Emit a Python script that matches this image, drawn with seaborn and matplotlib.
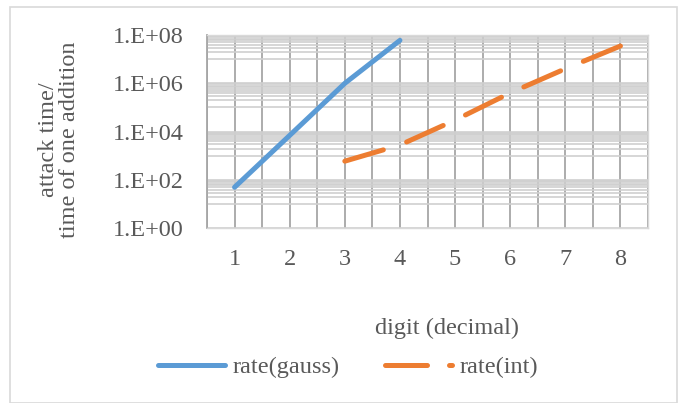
import numpy as np
import pandas as pd
import seaborn as sns
import matplotlib.pyplot as plt
from matplotlib.ticker import FixedLocator, FuncFormatter
from matplotlib.lines import Line2D
from matplotlib.patches import Rectangle

# values
digits = [1, 2, 3, 4, 5, 6, 7, 8]
rate_gauss = [50, 7.0e3, 1.0e6, 6.0e7, None, None, None, None]
rate_int = [None, None, 600, 2.8e3, 3.0e4, 4.0e5, 4.0e6, 3.5e7]
series_names = ["rate(gauss)", "rate(int)"]
y_ticks = [1e0, 1e2, 1e4, 1e6, 1e8]

BLUE = "#5B9BD5"
ORANGE = "#ED7D31"
TEXT = "#595959"
FS = 17.5
LW = 3.6

sns.set_theme(style="white")
plt.rcParams["font.family"] = ["Liberation Serif", "DejaVu Serif"]

df = pd.DataFrame({
    "digit": digits * 2,
    "rate": rate_gauss + rate_int,
    "series": [series_names[0]] * len(digits) + [series_names[1]] * len(digits),
}).dropna()

fig = plt.figure(figsize=(6.86, 4.03), dpi=100)
ax = fig.add_axes([207 / 686, 1 - 228.3 / 403, (648 - 207) / 686, (228.3 - 35) / 403])

dash = (7.5, 4.6)
sns.lineplot(data=df, x="digit", y="rate", hue="series", style="series",
             palette={series_names[0]: BLUE, series_names[1]: ORANGE},
             dashes={series_names[0]: "", series_names[1]: dash},
             linewidth=LW, legend=False, ax=ax, zorder=5)

ax.set_yscale("log")
ax.set_ylim(1, 1e8)
ax.set_xlim(0.5, 8.5)

# stretch the dash pattern so the dashed line starts and ends on a dash
lw_px = LW * fig.dpi / 72
for ln in ax.get_lines():
    ln.set_solid_capstyle("round")
    ln.set_dash_capstyle("round")
    if ln.get_linestyle() not in ("-", "solid"):
        xy = ax.transData.transform(np.column_stack(ln.get_data()))
        length = np.sum(np.hypot(*np.diff(xy, axis=0).T))
        period = (dash[0] + dash[1]) * lw_px
        n = max(1, round((length - dash[0] * lw_px) / period))
        s = length / (n * period + dash[0] * lw_px)
        ln.set_dashes((dash[0] * s, dash[1] * s))

# Excel-like log base 100 gridlines: minor lines at 10*m*100^k
minor = [100 ** k * 10 * m for k in range(4) for m in range(1, 10)]
ax.yaxis.set_major_locator(FixedLocator(y_ticks))
ax.yaxis.set_minor_locator(FixedLocator(minor))
ax.yaxis.set_major_formatter(FuncFormatter(lambda v, p: f"1.E+{int(round(np.log10(v))):02d}"))
ax.yaxis.set_minor_formatter(FuncFormatter(lambda v, p: ""))
ax.xaxis.set_major_locator(FixedLocator(digits))
ax.xaxis.set_minor_locator(FixedLocator(np.arange(0.5, 8.6, 1.0)))

ax.grid(True, which="major", axis="y", color="#cfcfcf", linewidth=1.2)
ax.grid(True, which="minor", axis="y", color="#cfcfcf", linewidth=1.2)
ax.grid(True, which="both", axis="x", color="#a6a6a6", linewidth=1.3)
ax.set_axisbelow(True)

for s in ["top", "right", "bottom"]:
    ax.spines[s].set_color("#d9d9d9")
    ax.spines[s].set_linewidth(1.0)
ax.spines["left"].set_color("#a6a6a6")
ax.spines["left"].set_linewidth(1.3)

ax.tick_params(axis="both", which="both", length=0, labelsize=FS, labelcolor=TEXT)
ax.tick_params(axis="y", pad=17)
ax.tick_params(axis="x", pad=15)
ax.set_xlabel("")
ax.set_ylabel("")

fig.text(59 / 686, 1 - 140 / 403, "attack time/\ntime of one addition",
         rotation=90, ha="center", va="center", fontsize=FS, color=TEXT,
         linespacing=1.05)
fig.text(447 / 686, 1 - 328 / 403, "digit (decimal)", ha="center", va="center",
         fontsize=FS, color=TEXT)

handles = [
    Line2D([], [], color=BLUE, linewidth=LW, solid_capstyle="round"),
    Line2D([], [], color=ORANGE, linewidth=LW, dashes=(8.4, 4.4), dash_capstyle="round"),
]
fig.legend(handles, series_names, loc="center", bbox_to_anchor=(348 / 686, 1 - 367 / 403),
           ncol=2, frameon=False, fontsize=FS, handlelength=2.75, handletextpad=0.3,
           columnspacing=1.9, labelcolor=TEXT)

fig.patches.append(Rectangle((10 / 686, 0), (677 - 10) / 686, 1 - 7 / 403,
                             transform=fig.transFigure, fill=False,
                             edgecolor="#d9d9d9", linewidth=1.2))

fig.savefig("out.png", dpi=100)
